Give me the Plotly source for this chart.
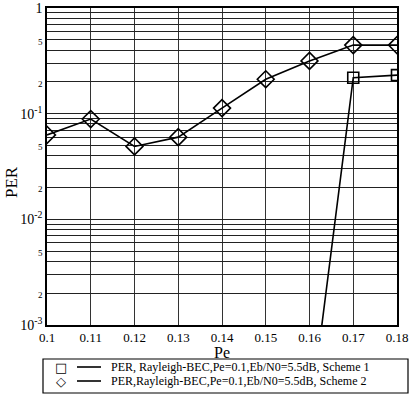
import plotly.graph_objects as go

pe = [0.10, 0.11, 0.12, 0.13, 0.14, 0.15, 0.16, 0.17, 0.18]
per_scheme2 = [0.063, 0.089, 0.049, 0.060, 0.113, 0.212, 0.316, 0.446, 0.446]
pe_scheme1 = [0.16, 0.17, 0.18]
per_scheme1 = [1.2e-4, 0.219, 0.232]

x_ticks = [0.10, 0.11, 0.12, 0.13, 0.14, 0.15, 0.16, 0.17, 0.18]
x_ticktext = ["0.1", "0.11", "0.12", "0.13", "0.14", "0.15", "0.16", "0.17", "0.18"]

legend_labels = ["PER, Rayleigh-BEC,Pe=0.1,Eb/N0=5.5dB, Scheme 1",
                 "PER,Rayleigh-BEC,Pe=0.1,Eb/N0=5.5dB, Scheme 2"]

# y ticks: all 1..9 per decade for gridlines
yvals, ytext = [], []
for d in [-3, -2, -1]:
    for m in range(1, 10):
        yvals.append(m * 10 ** d)
        if m == 1:
            ytext.append("10<sup>%d</sup>" % d)
        elif m in (2, 5):
            ytext.append('<span style="font-size:9px">%d</span>' % m)
        else:
            ytext.append("")
yvals.append(1)
ytext.append("1")

FONT = "Liberation Serif, Times New Roman, serif"

fig = go.Figure()
fig.add_trace(go.Scatter(x=pe_scheme1, y=per_scheme1, mode="lines+markers",
                         line=dict(color="black", width=1.6),
                         marker=dict(symbol="square-open", size=11, color="black",
                                     line=dict(width=1.6, color="black")),
                         showlegend=False))
fig.add_trace(go.Scatter(x=pe, y=per_scheme2, mode="lines+markers",
                         line=dict(color="black", width=1.6),
                         marker=dict(symbol="diamond-open", size=13, color="black",
                                     line=dict(width=1.6, color="black")),
                         showlegend=False))

fig.update_xaxes(range=[0.1, 0.18], tickvals=x_ticks, ticktext=x_ticktext,
                 showgrid=True, gridcolor="#333", gridwidth=1,
                 showline=True, linecolor="black", linewidth=1.5, mirror=True,
                 ticks="", tickfont=dict(family=FONT, size=13, color="black"),
                 zeroline=False, automargin=False)
fig.update_yaxes(type="log", range=[-3, 0.0005], tickvals=yvals, ticktext=ytext,
                 showgrid=True, gridcolor="#222", gridwidth=1,
                 showline=True, linecolor="black", linewidth=1.5, mirror=True,
                 ticks="", tickfont=dict(family=FONT, size=14, color="black"),
                 zeroline=False, automargin=False)

W, H = 410, 394
L, R, T, B = 47, 13, 8, 69
pw, ph = W - L - R, H - T - B

def px(xp):
    return (xp - L) / pw

def py(yp):
    return (H - B - yp) / ph

shapes = [dict(type="rect", xref="paper", yref="paper",
               x0=px(43), x1=px(408), y0=py(359), y1=py(393),
               line=dict(color="black", width=1.2), fillcolor="white")]
annotations = [
    dict(text="Pe", xref="paper", yref="paper", x=px(222), y=py(352),
         xanchor="center", yanchor="middle",
         showarrow=False, font=dict(family=FONT, size=16, color="black")),
    dict(text="PER", xref="paper", yref="paper", x=px(12), y=py(182),
         xanchor="center", yanchor="middle",
         showarrow=False, textangle=-90, font=dict(family=FONT, size=17, color="black")),
]
rows = [367, 381]
glyphs = ["□", "◇"]
for i, yy in enumerate(rows):
    shapes.append(dict(type="line", xref="paper", yref="paper",
                       x0=px(77), x1=px(101), y0=py(yy), y1=py(yy),
                       line=dict(color="black", width=1.6)))
    annotations.append(dict(text=glyphs[i], xref="paper", yref="paper", x=px(61), y=py(yy),
                            xanchor="center", yanchor="middle",
                            showarrow=False, font=dict(family="DejaVu Sans", size=13, color="black")))
    annotations.append(dict(text=legend_labels[i], xref="paper", yref="paper", x=px(109), y=py(yy),
                            xanchor="left", yanchor="middle", showarrow=False,
                            font=dict(family=FONT, size=12, color="black")))

fig.update_layout(width=W, height=H, margin=dict(l=L, r=R, t=T, b=B),
                  paper_bgcolor="white", plot_bgcolor="white",
                  shapes=shapes, annotations=annotations)
fig.write_html("out.html")
